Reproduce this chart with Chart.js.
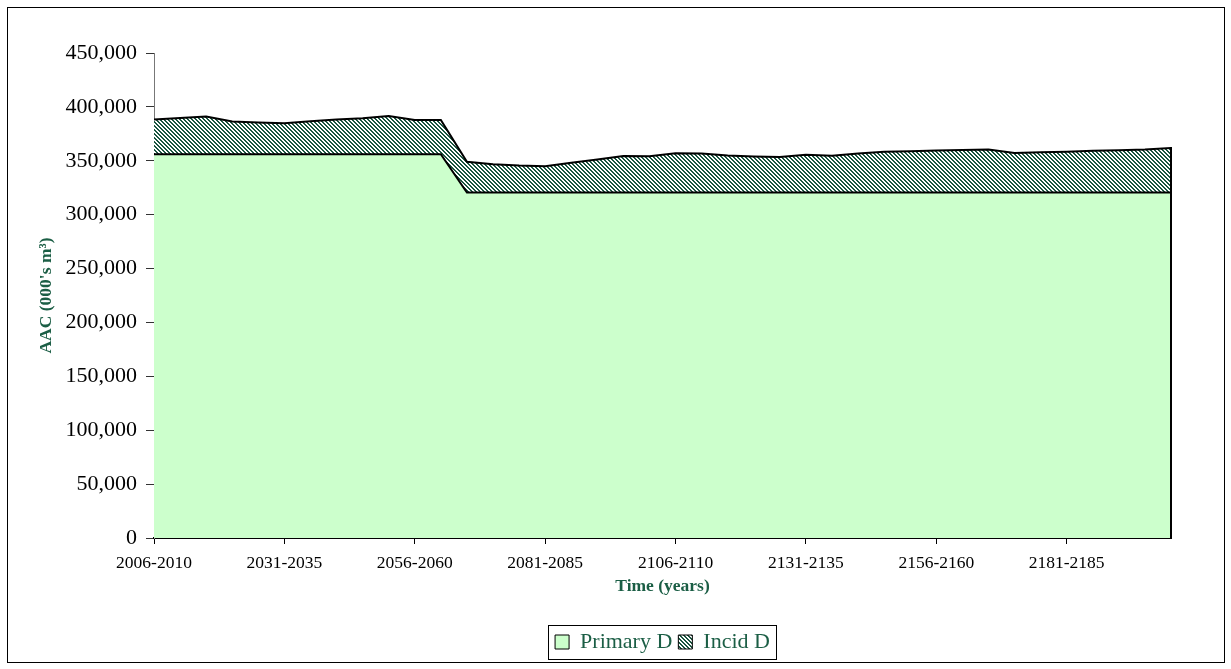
<!DOCTYPE html>
<html>
<head>
<meta charset="utf-8">
<script src="https://cdn.jsdelivr.net/npm/chart.js@4.4.0/dist/chart.umd.min.js"></script>
<style>
  body { margin: 0; background: #fff; }
  #wrap { position: relative; width: 1231px; height: 669px; }
  #frame { position: absolute; left: 7px; top: 7px; width: 1216px; height: 654px; border: 1px solid #000; pointer-events: none; }
</style>
</head>
<body>
<div id="wrap">
  <canvas id="myChart" width="1231" height="669"></canvas>
  <div id="frame"></div>
</div>
<script>
// periodi di 5 anni
const periods = [
  '2006-2010','2011-2015','2016-2020','2021-2025','2026-2030','2031-2035','2036-2040','2041-2045',
  '2046-2050','2051-2055','2056-2060','2061-2065','2066-2070','2071-2075','2076-2080','2081-2085',
  '2086-2090','2091-2095','2096-2100','2101-2105','2106-2110','2111-2115','2116-2120','2121-2125',
  '2126-2130','2131-2135','2136-2140','2141-2145','2146-2150','2151-2155','2156-2160','2161-2165',
  '2166-2170','2171-2175','2176-2180','2181-2185','2186-2190','2191-2195','2196-2200','2201-2205'
];
// etichette visibili sull'asse x
const shownTicks = ['2006-2010','2031-2035','2056-2060','2081-2085','2106-2110','2131-2135','2156-2160','2181-2185'];

const primaryD = [
  356000,356000,356000,356000,356000,356000,356000,356000,356000,356000,356000,356000,
  320500,320500,320500,320500,320500,320500,320500,320500,320500,320500,320500,320500,
  320500,320500,320500,320500,320500,320500,320500,320500,320500,320500,320500,320500,
  320500,320500,320500,320500
];
const incidD = [
  32300,33800,35100,30500,29500,28900,30700,32300,33400,35600,31900,31900,
  28500,26300,25100,24500,27600,30700,34000,33800,36500,36300,34400,33500,
  33100,35000,34100,36300,37800,38400,39000,39600,39900,36800,37400,37800,
  38700,39300,39900,41400
];
const yTicks = [0, 50000, 100000, 150000, 200000, 250000, 300000, 350000, 400000, 450000];

const ctx = document.getElementById('myChart');
const dark = '#1b5e45';

// tratteggio diagonale per Incid D
function hatch() {
  const c = document.createElement('canvas');
  c.width = 4; c.height = 4;
  const g = c.getContext('2d');
  g.fillStyle = '#fff'; g.fillRect(0, 0, 4, 4);
  g.fillStyle = '#1a5640';
  for (let i = 0; i < 4; i++) { g.fillRect(i, i, 1, 1); g.fillRect((i + 1) % 4, i, 1, 1); }
  return ctx.getContext('2d').createPattern(c, 'repeat');
}

// legenda centrata sull'area del grafico, bordo destro dell'area, cornice legenda
const extras = {
  id: 'extras',
  afterLayout(chart) {
    const lg = chart.legend;
    lg.left = chart.chartArea.left;
    lg.right = chart.chartArea.right;
  },
  afterDatasetsDraw(chart) {
    const meta = chart.getDatasetMeta(1);
    const last = meta.data[meta.data.length - 1];
    const yb = chart.scales.y.getPixelForValue(0);
    const c = chart.ctx;
    c.save();
    c.strokeStyle = '#000'; c.lineWidth = 2;
    c.beginPath(); c.moveTo(last.x, last.y - 1); c.lineTo(last.x, yb); c.stroke();
    c.restore();
  },
  afterDraw(chart) {
    const boxes = chart.legend.legendHitBoxes;
    if (!boxes || !boxes.length) return;
    let l = Infinity, r = -Infinity, t = Infinity, b = -Infinity;
    boxes.forEach(h => { l = Math.min(l, h.left); r = Math.max(r, h.left + h.width); t = Math.min(t, h.top); b = Math.max(b, h.top + h.height); });
    const c = chart.ctx;
    c.save();
    c.strokeStyle = '#000'; c.lineWidth = 1;
    c.strokeRect(Math.round(l - 7) + 0.5, Math.round(t - 6) + 0.5, Math.round(r - l + 13), Math.round(b - t + 12));
    c.restore();
  }
};

Chart.defaults.font.family = "'Liberation Serif', 'Times New Roman', serif";
Chart.defaults.color = '#000';

new Chart(ctx, {
  type: 'line',
  data: {
    labels: periods,
    datasets: [{
      label: 'Primary D',
      data: primaryD,
      backgroundColor: '#ccffcc',
      borderColor: '#000',
      borderWidth: 2,
      fill: 'origin',
      pointRadius: 0,
      tension: 0
    }, {
      label: 'Incid D',
      data: incidD,
      backgroundColor: hatch(),
      borderColor: '#000',
      borderWidth: 2,
      fill: '-1',
      pointRadius: 0,
      tension: 0
    }]
  },
  options: {
    responsive: false,
    animation: false,
    devicePixelRatio: 1,
    layout: { padding: { top: 53, right: 60, bottom: 6, left: 0 } },
    plugins: {
      tooltip: { enabled: false },
      legend: {
        position: 'bottom',
        labels: {
          font: { size: 22 },
          color: dark,
          boxWidth: 14,
          boxHeight: 14,
          padding: 6,
          generateLabels(chart) {
            const items = Chart.defaults.plugins.legend.labels.generateLabels(chart);
            items.forEach(it => { it.lineWidth = 1; it.strokeStyle = '#000'; });
            return items;
          }
        }
      }
    },
    scales: {
      x: {
        offset: false,
        afterFit(scale) { scale.height = 87; },
        grid: { drawOnChartArea: false, tickLength: 6, color: '#000' },
        border: { color: '#000', width: 2 },
        ticks: {
          autoSkip: false,
          maxRotation: 0,
          padding: 9,
          font: { size: 17.5 },
          callback(val) {
            const lab = this.getLabelForValue(val);
            return shownTicks.includes(lab) ? lab : null;
          }
        },
        title: { display: true, text: 'Time (years)', color: dark, font: { size: 17.5, weight: 'bold' }, padding: { top: 0, bottom: 28 } }
      },
      y: {
        stacked: true,
        min: 0,
        max: 450000,
        afterFit(scale) { scale.width = 154; },
        afterBuildTicks(scale) { scale.ticks = yTicks.map(v => ({ value: v })); },
        grid: { drawOnChartArea: false, tickLength: 8, color: '#333' },
        border: { color: '#777', width: 1 },
        ticks: {
          padding: 9,
          font: { size: 22 },
          callback: v => v.toLocaleString('en-US')
        },
        title: { display: true, text: "AAC (000's m³)", color: dark, font: { size: 17.5, weight: 'bold' }, padding: { top: 36, bottom: 0 } }
      }
    }
  },
  plugins: [extras]
});
</script>
</body>
</html>
